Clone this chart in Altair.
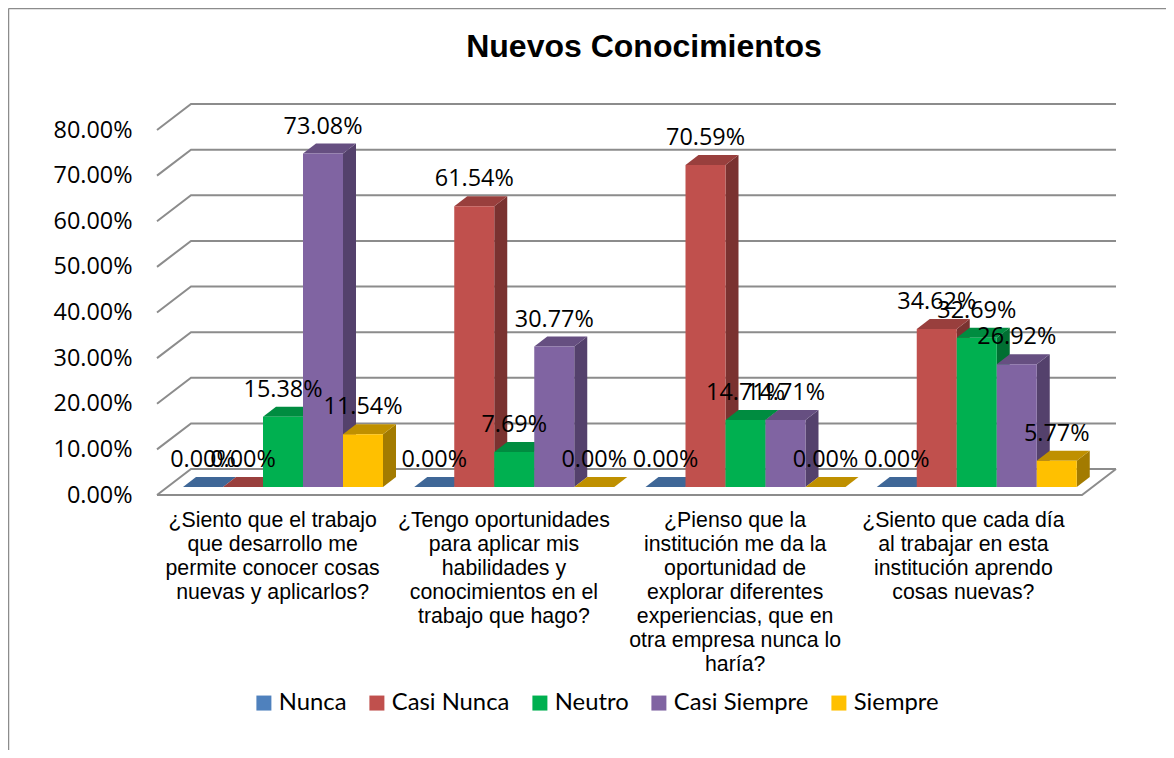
import altair as alt
import pandas as pd

categories = [
    "¿Siento que el trabajo\nque desarrollo me\npermite conocer cosas\nnuevas y aplicarlos?",
    "¿Tengo oportunidades\npara aplicar mis\nhabilidades y\nconocimientos en el\ntrabajo que hago?",
    "¿Pienso que la\ninstitución me da la\noportunidad de\nexplorar diferentes\nexperiencias, que en\notra empresa nunca lo\nharía?",
    "¿Siento que cada día\nal trabajar en esta\ninstitución aprendo\ncosas nuevas?",
]
series = ["Nunca", "Casi Nunca", "Neutro", "Casi Siempre", "Siempre"]
nunca = [0.00, 0.00, 0.00, 0.00]
casi_nunca = [0.00, 61.54, 70.59, 34.62]
neutro = [15.38, 7.69, 14.71, 32.69]
casi_siempre = [73.08, 30.77, 14.71, 26.92]
siempre = [11.54, 0.00, 0.00, 5.77]
values = [nunca, casi_nunca, neutro, casi_siempre, siempre]
ticks = [0, 10, 20, 30, 40, 50, 60, 70, 80]

front_colors = ["#4F81BD", "#C0504D", "#00B050", "#8064A2", "#FFC000"]
top_colors = ["#3F6797", "#993F3D", "#008C40", "#664F81", "#BF9000"]
side_colors = ["#325078", "#7A3230", "#006F32", "#54416C", "#A37B00"]

PW, PH = 925, 365
XU, YU = 4 / PW, 80 / PH
BAR_W = 40 * XU
BAR_START = 26 * XU
BAR_DX, BAR_DY = 13 * XU, 10 * YU
BASE = 8 * YU
WALL_DX, WALL_DY = 34 * XU, 26 * YU
CAT_NUDGE = [0, 0, 0, -3 * XU]

fronts, sides, tops, labels = [], [], [], []
for s, (name, vals) in enumerate(zip(series, values)):
    for g, v in enumerate(vals):
        x0 = g + BAR_START + s * BAR_W
        x1 = x0 + BAR_W
        top = BASE + v
        fronts.append(dict(serie=name, x=x0, x2=x1, y=BASE, y2=top))
        labels.append(dict(x=(x0 + x1) / 2, y=top, t=f"{v:.2f}%"))
        key = f"{g}-{s}"
        for x, lo, hi in [(x1, BASE, top), (x1 + BAR_DX, BASE + BAR_DY, top + BAR_DY)]:
            sides.append(dict(k=key, s=s, x=x, lo=lo, hi=hi))
        for x, lo, hi in [
            (x0, top, top),
            (x0 + BAR_DX, top, top + BAR_DY),
            (x1, top, top + BAR_DY),
            (x1 + BAR_DX, top + BAR_DY, top + BAR_DY),
        ]:
            tops.append(dict(k=key, s=s, x=x, lo=lo, hi=hi))

wall = []
for t in ticks:
    wall += [
        dict(k=f"w{t}", o=0, x=0, y=t),
        dict(k=f"w{t}", o=1, x=WALL_DX, y=t + WALL_DY),
        dict(k=f"w{t}", o=2, x=4 + WALL_DX, y=t + WALL_DY),
    ]
wall += [
    dict(k="floor", o=0, x=0, y=0),
    dict(k="floor", o=1, x=4, y=0),
    dict(k="floor", o=2, x=4 + WALL_DX, y=WALL_DY),
]

xs = alt.Scale(domain=[0, 4], nice=False, zero=False)
ys = alt.Scale(domain=[0, 80], nice=False, zero=False)
y_axis = alt.Axis(
    values=ticks,
    domain=False,
    ticks=False,
    grid=False,
    labelPadding=25,
    labelFont="Open Sans",
    labelFontSize=23.4,
    labelColor="#000000",
    labelExpr="format(datum.value, '.2f') + '%'",
)
X = lambda f="x": alt.X(f"{f}:Q", scale=xs, axis=None)
Y = lambda f="y": alt.Y(f"{f}:Q", scale=ys, axis=y_axis, title=None)

wall_layer = alt.Chart(pd.DataFrame(wall)).mark_line(color="#8C8C8C", strokeWidth=2).encode(
    x=X(), y=Y(), detail="k:N", order="o:Q"
)


def face_layers(rows, colors):
    df = pd.DataFrame(rows)
    return [
        alt.Chart(df[df["s"] == s]).mark_area(color=colors[s]).encode(
            x=X(), y=Y("lo"), y2="hi:Q", detail="k:N"
        )
        for s in range(len(series))
    ]


front_layer = alt.Chart(pd.DataFrame(fronts)).mark_rect().encode(
    x=X(),
    x2="x2:Q",
    y=Y(),
    y2="y2:Q",
    color=alt.Color(
        "serie:N",
        scale=alt.Scale(domain=series, range=front_colors),
        sort=series,
        legend=alt.Legend(
            title=None,
            orient="none",
            direction="horizontal",
            legendX=95,
            legendY=561,
            symbolType="square",
            symbolSize=225,
            symbolStrokeWidth=0,
            labelFont="Lato",
            labelFontSize=23.8,
            labelColor="#000000",
            labelOffset=3,
            columnPadding=18,
        ),
    ),
)

label_layer = alt.Chart(pd.DataFrame(labels)).mark_text(
    font="Open Sans", fontSize=23.4, color="#000000", dy=-27
).encode(x=X(), y=Y(), text="t:N")

cat_df = pd.DataFrame({"x": [i + 0.5 + CAT_NUDGE[i] for i in range(4)], "t": categories})
cat_layer = alt.Chart(cat_df).mark_text(
    font="Liberation Sans",
    fontSize=21.3,
    color="#000000",
    baseline="top",
    lineBreak="\n",
    lineHeight=24,
    dy=15,
).encode(x=X(), y=alt.value(PH), text="t:N")

title_layer = alt.Chart(pd.DataFrame({"t": ["Nuevos Conocimientos"]})).mark_text(
    font="Liberation Sans", fontSize=32, fontWeight="bold", color="#000000"
).encode(x=alt.value(487), y=alt.value(-83), text="t:N")

frame = alt.Chart(pd.DataFrame({"k": [0]}))
frame_top = frame.mark_rule(color="#8C8C8C", strokeWidth=1.5).encode(
    x=alt.value(-148.5), x2=alt.value(1010), y=alt.value(-121.5)
)
frame_left = frame.mark_rule(color="#8C8C8C", strokeWidth=1.5).encode(
    x=alt.value(-148.5), y=alt.value(-121.5), y2=alt.value(620)
)

chart = alt.layer(
    frame_top,
    frame_left,
    title_layer,
    wall_layer,
    *face_layers(sides, side_colors),
    *face_layers(tops, top_colors),
    front_layer,
    cat_layer,
    label_layer,
).properties(
    width=PW,
    height=PH,
    autosize=alt.AutoSizeParams(type="none"),
    padding={"left": 149, "top": 122, "right": 84, "bottom": 255},
).configure_view(stroke=None)

chart.save("out.html", embed_options={"renderer": "svg", "actions": False})
